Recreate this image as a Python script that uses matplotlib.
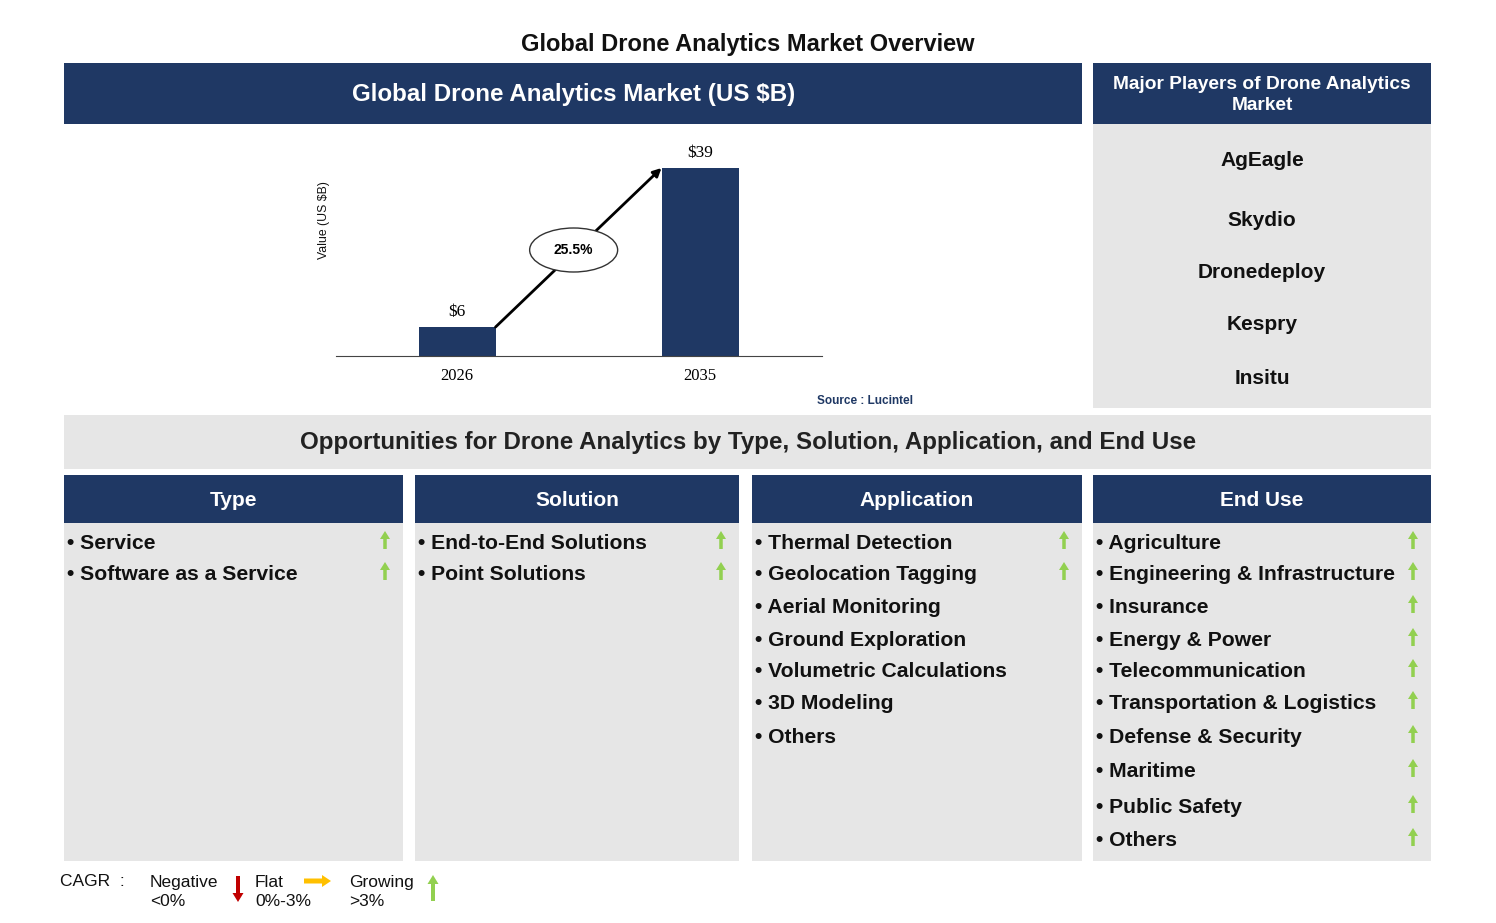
import matplotlib
matplotlib.use("Agg")
import matplotlib.pyplot as plt
from matplotlib.patches import Rectangle, Ellipse, FancyArrow

plt.rcParams['font.family'] = ['Liberation Sans', 'DejaVu Sans']

years = ["2026", "2035"]
values = [6, 39]
cagr_label = "25.5%"
players = ["AgEagle", "Skydio", "Dronedeploy", "Kespry", "Insitu"]
types = ["Service", "Software as a Service"]
solutions = ["End-to-End Solutions", "Point Solutions"]
applications = ["Thermal Detection", "Geolocation Tagging", "Aerial Monitoring", "Ground Exploration",
                "Volumetric Calculations", "3D Modeling", "Others"]
app_growth = [True, True, False, False, False, False, False]
end_uses = ["Agriculture", "Engineering & Infrastructure", "Insurance", "Energy & Power",
            "Telecommunication", "Transportation & Logistics", "Defense & Security", "Maritime",
            "Public Safety", "Others"]

NAVY = "#1F3864"
GREY = "#E6E6E6"
GREEN = "#92D050"
W, H = 1496, 923
fig = plt.figure(figsize=(W/100, H/100), dpi=100)
ov = fig.add_axes([0, 0, 1, 1])
ov.set_xlim(0, W); ov.set_ylim(H, 0); ov.axis('off')

def rect(x0, y0, x1, y1, c):
    ov.add_patch(Rectangle((x0, y0), x1-x0, y1-y0, color=c, lw=0))

def up(x, y):
    ov.add_patch(FancyArrow(x, y+9, 0, -18, width=3.5, head_width=10, head_length=8,
                            length_includes_head=True, color=GREEN, lw=0))

ov.text(748, 45, "Global Drone Analytics Market Overview", ha='center', va='center', fontsize=17,
        color='#111', fontweight='bold')
rect(64, 63, 1082, 124, NAVY)
ov.text(574, 95, "Global Drone Analytics Market (US $B)", ha='center', va='center', fontsize=17.4,
        color='white', fontweight='bold')
rect(1093, 63, 1431, 124, NAVY)
ov.text(1262, 95, "Major Players of Drone Analytics\nMarket", ha='center', va='center', fontsize=13.8,
        color='white', fontweight='bold', linespacing=1.3)
rect(1093, 124, 1431, 408, GREY)
for p, y in zip(players, [160, 220, 272, 325, 378]):
    ov.text(1262, y, p, ha='center', va='center', fontsize=15, color='#111', fontweight='bold')
ov.text(865, 401, "Source : Lucintel", ha='center', va='center', fontsize=8.5, color=NAVY, fontweight='bold')

rect(64, 415, 1431, 469, GREY)
ov.text(748, 443, "Opportunities for Drone Analytics by Type, Solution, Application, and End Use",
        ha='center', va='center', fontsize=17.4, color='#222', fontweight='bold')

cols = [("Type", 64, 403, types, [True]*len(types), [542, 573]),
        ("Solution", 415, 739, solutions, [True]*len(solutions), [542, 573]),
        ("Application", 752, 1082, applications, app_growth, [542, 573, 606, 639, 670, 702, 736]),
        ("End Use", 1093, 1431, end_uses, [True]*len(end_uses), [542, 573, 606, 639, 670, 702, 736, 770, 806, 839])]
for title, x0, x1, items, grow, ys in cols:
    rect(x0, 475, x1, 523, NAVY)
    ov.text((x0+x1)/2, 500, title, ha='center', va='center', fontsize=15, color='white', fontweight='bold')
    rect(x0, 523, x1, 861, GREY)
    for it, g, y in zip(items, grow, ys):
        ov.text(x0+3, y+1.5, "• " + it, ha='left', va='center', fontsize=15.2, color='#111', fontweight='bold')
        if g:
            up(x1-18, y-2)

# legend
ov.text(60, 882, "CAGR  :", ha='left', va='center', fontsize=12.5, color='#111')
ov.text(150, 892, "Negative\n<0%", ha='left', va='center', fontsize=12.5, color='#111', linespacing=1.35)
ov.add_patch(FancyArrow(238, 876, 0, 26, width=4, head_width=11, head_length=9,
                        length_includes_head=True, color="#C00000", lw=0))
ov.text(255, 892, "Flat\n0%-3%", ha='left', va='center', fontsize=12.5, color='#111', linespacing=1.35)
ov.add_patch(FancyArrow(304, 881, 27, 0, width=5, head_width=12, head_length=9,
                        length_includes_head=True, color="#FFC000", lw=0))
ov.text(349, 892, "Growing\n>3%", ha='left', va='center', fontsize=12.5, color='#111', linespacing=1.35)
ov.add_patch(FancyArrow(433, 901, 0, -26, width=4, head_width=11, head_length=9,
                        length_includes_head=True, color=GREEN, lw=0))

# bar chart
L, R, B, T = 336, 822, 356, 130
ymax = 39 * (B - T) / (B - 168)
ax = fig.add_axes([L/W, 1-B/H, (R-L)/W, (B-T)/H])
ax.patch.set_alpha(0)
x = [0, 1]
ax.bar(x, values, width=77/243, color=NAVY)
ax.set_xlim(-121/243, (R-L-121)/243)
ax.set_ylim(0, ymax)
for s in ['top', 'right', 'left']:
    ax.spines[s].set_visible(False)
ax.spines['bottom'].set_color('#444')
ax.set_yticks([])
ax.set_xticks(x)
ax.set_xticklabels(years, fontfamily='Liberation Serif', fontsize=12)
ax.tick_params(axis='x', length=0, pad=9)
for xi, v in zip(x, values):
    ax.text(xi, v + 1.5, f"${v}", ha='center', va='bottom', fontfamily='Liberation Serif', fontsize=12.5)
bw = 77/243/2
ax.annotate('', xy=(1-bw, values[1]), xytext=(bw, values[0]),
            arrowprops=dict(arrowstyle='-|>', color='black', lw=2, mutation_scale=12, shrinkA=0, shrinkB=0))
ey = (B-250)/(B-T)*ymax
ax.add_patch(Ellipse((0.48, ey), 88/243, 44/(B-T)*ymax, facecolor='white', edgecolor='#333', lw=1, zorder=5))
ax.text(0.48, ey, cagr_label, ha='center', va='center', fontsize=10, fontweight='bold', zorder=6)
ov.text(324, 220, "Value (US $B)", rotation=90, ha='center', va='center', fontsize=8.8, color='#111')

fig.savefig("out.png", dpi=100)
